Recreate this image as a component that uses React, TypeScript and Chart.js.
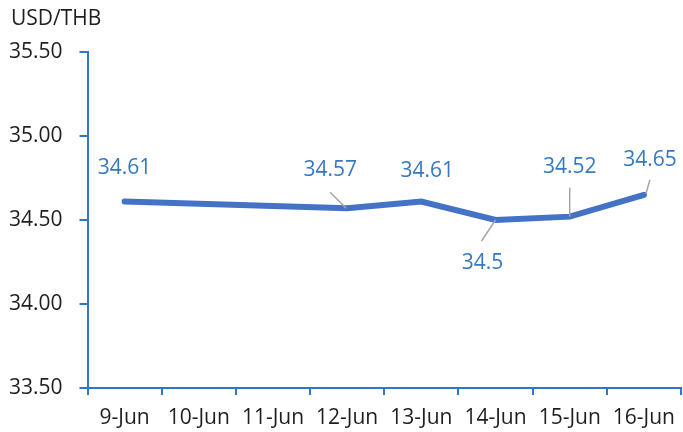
import React, { useEffect, useRef } from "react";
import { Chart, registerables } from "chart.js";

Chart.register(...registerables);

const categories = ["9-Jun", "10-Jun", "11-Jun", "12-Jun", "13-Jun", "14-Jun", "15-Jun", "16-Jun"];
const rates: (number | null)[] = [34.61, null, null, 34.57, 34.61, 34.5, 34.52, 34.65];
const dataLabels: (string | null)[] = ["34.61", null, null, "34.57", "34.61", "34.5", "34.52", "34.65"];
const yTicks = [33.5, 34.0, 34.5, 35.0, 35.5];
const unitLabel = "USD/THB";

// label placement styles (pixel offsets relative to point): [dx, dy, leader x1, y1, x2, y2] or null
const labelStyle: (number[] | null)[] = [
  [0, -34],
  null,
  null,
  [-17, -38, -17, -16, -1, 0],
  [6, -31],
  [-13, 43, -14, 21, 0, 0],
  [0, -50, 0, -29, 0, 0],
  [6, -35, 6, -15, 2, -1],
];

const FONT = "'Open Sans', 'Noto Sans', sans-serif";

export default function App() {
  const ref = useRef<HTMLCanvasElement>(null);
  useEffect(() => {
    document.body.style.margin = "0";
    document.body.style.overflow = "hidden";
    const labelPlugin = {
      id: "labels",
      afterDatasetsDraw(chart: any) {
        const ctx = chart.ctx;
        const meta = chart.getDatasetMeta(0);
        ctx.save();
        ctx.font = `21px ${FONT}`;
        ctx.textAlign = "center";
        ctx.textBaseline = "middle";
        meta.data.forEach((pt: any, i: number) => {
          const txt = dataLabels[i];
          const st = labelStyle[i];
          if (!txt || !st || rates[i] == null) return;
          const x = pt.x, y = pt.y;
          if (st.length > 2) {
            ctx.strokeStyle = "#A6A6A6";
            ctx.lineWidth = 1.5;
            ctx.beginPath();
            ctx.moveTo(x + st[2], y + st[3]);
            ctx.lineTo(x + st[4], y + st[5]);
            ctx.stroke();
          }
          ctx.fillStyle = "#3579C2";
          ctx.fillText(txt, x + st[0], y + st[1]);
        });
        ctx.fillStyle = "#1f1f1f";
        ctx.textAlign = "left";
        ctx.fillText(unitLabel, 11, 19);
        ctx.restore();
      },
    };
    const chart = new Chart(ref.current!, {
      type: "line",
      data: {
        labels: categories,
        datasets: [
          {
            data: rates,
            borderColor: "#4472C4",
            backgroundColor: "#4472C4",
            borderWidth: 6,
            borderCapStyle: "round",
            borderJoinStyle: "miter",
            pointRadius: 0,
            spanGaps: true,
            tension: 0,
          },
        ],
      },
      options: {
        animation: false,
        responsive: true,
        maintainAspectRatio: false,
        layout: { padding: { top: 52, right: 0, bottom: 0, left: 0 } },
        plugins: { legend: { display: false }, tooltip: { enabled: false } },
        scales: {
          x: {
            offset: true,
            grid: {
              offset: true,
              drawOnChartArea: false,
              drawTicks: true,
              tickLength: 7,
              color: "#2F75C8",
              lineWidth: 2,
            },
            border: { color: "#2F75C8", width: 2 },
            ticks: { color: "#1f1f1f", font: { size: 21, family: FONT }, padding: 10, maxRotation: 0, autoSkip: false },
            afterFit(scale: any) {
              scale.height = 44;
            },
          },
          y: {
            min: yTicks[0],
            max: yTicks[yTicks.length - 1],
            afterBuildTicks(scale: any) {
              scale.ticks = yTicks.map((v) => ({ value: v }));
            },
            grid: {
              drawOnChartArea: false,
              drawTicks: true,
              tickLength: 8,
              color: "#2F75C8",
              lineWidth: 2,
            },
            border: { color: "#2F75C8", width: 2 },
            ticks: {
              color: "#1f1f1f",
              font: { size: 21, family: FONT },
              padding: 17,
              callback: (v: any) => Number(v).toFixed(2),
            },
            afterFit(scale: any) {
              scale.width = 87.5;
            },
          },
        },
      },
      plugins: [labelPlugin],
    } as any);
    return () => chart.destroy();
  }, []);
  return (
    <div style={{ position: "absolute", left: 0, top: 0, width: 685, height: 432 }}>
      <canvas ref={ref} />
    </div>
  );
}
